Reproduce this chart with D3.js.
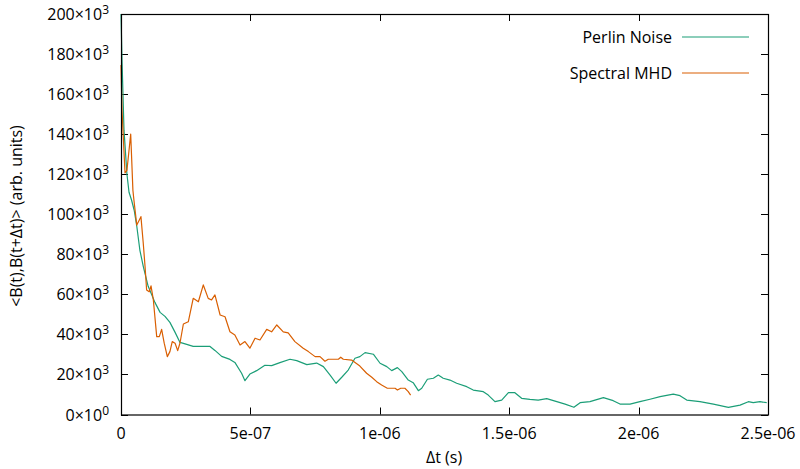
<!DOCTYPE html>
<html><head><meta charset="utf-8">
<script src="https://cdn.jsdelivr.net/npm/d3@7"></script>
<style>body{margin:0;background:#fff;}svg{display:block;font-family:"Open Sans",Lato,sans-serif;font-weight:500;}</style>
</head><body>
<svg id="chart" width="800" height="469"></svg>
<script>
const seriesNames = ["Perlin Noise", "Spectral MHD"];
const seriesColors = ["#1b9e77", "#d95f02"];
const perlinT = [0,3.9e-9,11.6e-9,23e-9,31e-9,41e-9,51e-9,61e-9,73e-9,86e-9,105e-9,131e-9,151e-9,170e-9,189e-9,209e-9,228e-9,254e-9,279e-9,305e-9,344e-9,363e-9,389e-9,421e-9,440e-9,466e-9,479e-9,498e-9,524e-9,556e-9,582e-9,614e-9,653e-9,679e-9,718e-9,756e-9,782e-9,808e-9,831e-9,853e-9,878e-9,904e-9,923e-9,943e-9,975e-9,1001e-9,1027e-9,1046e-9,1068e-9,1085e-9,1110e-9,1129e-9,1149e-9,1162e-9,1184e-9,1207e-9,1226e-9,1245e-9,1271e-9,1297e-9,1336e-9,1361e-9,1400e-9,1419e-9,1445e-9,1471e-9,1497e-9,1522e-9,1548e-9,1580e-9,1612e-9,1645e-9,1684e-9,1716e-9,1750e-9,1774e-9,1812e-9,1864e-9,1902e-9,1928e-9,1967e-9,2005e-9,2044e-9,2083e-9,2134e-9,2160e-9,2186e-9,2237e-9,2289e-9,2347e-9,2392e-9,2424e-9,2443e-9,2469e-9,2495e-9];
const perlinV = [200e3,177e3,142e3,120e3,111e3,107e3,102e3,94e3,82e3,74e3,64e3,56e3,51e3,49e3,46e3,41e3,36e3,35e3,34e3,34e3,34e3,32e3,29e3,27.5e3,26e3,20.6e3,16.9e3,20.2e3,21.9e3,24.6e3,24.4e3,25.9e3,27.6e3,26.9e3,24.9e3,25.7e3,23.9e3,19.7e3,15.6e3,18.6e3,22.2e3,28.1e3,28.9e3,30.9e3,30.1e3,25.6e3,23.9e3,21.9e3,23.4e3,21.4e3,17.2e3,15.9e3,11.9e3,13.1e3,17.6e3,18.1e3,19.7e3,18.1e3,17.2e3,15.6e3,13.9e3,12.2e3,11.4e3,9.7e3,6.4e3,7.2e3,10.9e3,10.9e3,8.1e3,7.6e3,7.2e3,7.9e3,6.4e3,5.2e3,3.6e3,5.9e3,6.4e3,8.4e3,6.9e3,5.2e3,5.2e3,6.4e3,7.6e3,8.9e3,10.2e3,9.4e3,7.2e3,6.4e3,5.2e3,3.6e3,4.7e3,6.4e3,5.9e3,6.4e3,5.9e3];
const mhdT = [0,3.9e-9,15.5e-9,23e-9,37.5e-9,46e-9,50e-9,61e-9,77e-9,86e-9,93e-9,99e-9,109e-9,116e-9,125e-9,138e-9,148e-9,157e-9,167e-9,179e-9,189e-9,198e-9,209e-9,219e-9,228e-9,241e-9,260e-9,279e-9,299e-9,318e-9,337e-9,350e-9,363e-9,383e-9,402e-9,421e-9,440e-9,460e-9,479e-9,498e-9,518e-9,537e-9,563e-9,582e-9,602e-9,627e-9,646e-9,672e-9,704e-9,724e-9,750e-9,769e-9,788e-9,801e-9,840e-9,849e-9,859e-9,891e-9,923e-9,949e-9,969e-9,988e-9,1007e-9,1029e-9,1059e-9,1068e-9,1081e-9,1097e-9,1110e-9,1119e-9];
const mhdV = [174.5e3,152e3,120.6e3,122e3,140e3,112e3,107e3,94.6e3,98.8e3,85.5e3,73.8e3,62.2e3,61.3e3,64.2e3,57.2e3,38.9e3,38.9e3,42.5e3,35.6e3,28.9e3,31.4e3,36.4e3,35.6e3,31.9e3,35.7e3,45.2e3,46.3e3,58e3,56.3e3,64.7e3,58e3,57.2e3,59.7e3,49.7e3,48.8e3,41.3e3,39.7e3,34.7e3,36.4e3,33.1e3,38.1e3,37.2e3,42.5e3,41.3e3,44.7e3,41.3e3,40.8e3,36.4e3,33.1e3,31.4e3,28.9e3,28.9e3,26.6e3,27.6e3,27.6e3,28.6e3,27.6e3,27.2e3,24.2e3,20.6e3,18.6e3,16.4e3,14.7e3,13.1e3,13.1e3,12.2e3,13.1e3,13.1e3,11.4e3,9.7e3];
const xTickValues = [0, 5e-7, 1e-6, 1.5e-6, 2e-6, 2.5e-6];
const xTickLabels = ["0", "5e-07", "1e-06", "1.5e-06", "2e-06", "2.5e-06"];
const yTickValues = [0, 20e3, 40e3, 60e3, 80e3, 100e3, 120e3, 140e3, 160e3, 180e3, 200e3];
const yTickMantissa = ["0", "20", "40", "60", "80", "100", "120", "140", "160", "180", "200"];
const yTickExponent = ["0", "3", "3", "3", "3", "3", "3", "3", "3", "3", "3"];
const xLabel = "Δt (s)";
const yLabel = "<B(t),B(t+Δt)> (arb. units)";

const svg = d3.select("#chart");
const L = 121, R = 768, T = 14, B = 414.5;
const x = d3.scaleLinear().domain([0, 2.5e-6]).range([L, R]);
const y = d3.scaleLinear().domain([0, 200e3]).range([B, T]);
const fs = 16;

// ticks (inward, mirrored)
const tk = svg.append("g").attr("stroke", "#000").attr("stroke-width", 1);
yTickValues.forEach(v => {
  const yy = Math.round(y(v)) + 0.5;
  tk.append("line").attr("x1", L).attr("x2", L + 7).attr("y1", yy).attr("y2", yy);
  tk.append("line").attr("x1", R - 7).attr("x2", R).attr("y1", yy).attr("y2", yy);
});
xTickValues.forEach(v => {
  const xx = Math.round(x(v)) + 0.5;
  tk.append("line").attr("x1", xx).attr("x2", xx).attr("y1", B).attr("y2", B - 7);
  tk.append("line").attr("x1", xx).attr("x2", xx).attr("y1", T).attr("y2", T + 7);
});

// y tick labels
yTickValues.forEach((v, i) => {
  const t = svg.append("text").attr("x", 109).attr("y", y(v) + 6)
    .attr("text-anchor", "end").attr("font-size", fs).attr("fill", "#000");
  t.append("tspan").text(yTickMantissa[i] + "×10");
  t.append("tspan").attr("dy", -6).attr("font-size", 12).text(yTickExponent[i]);
});
// x tick labels
xTickValues.forEach((v, i) => {
  svg.append("text").attr("x", x(v)).attr("y", 439).attr("text-anchor", "middle")
    .attr("font-size", fs).attr("fill", "#000").text(xTickLabels[i]);
});
// axis labels
svg.append("text").attr("x", 444).attr("y", 463).attr("text-anchor", "middle")
  .attr("font-size", fs).text(xLabel);
svg.append("text").attr("transform", "translate(22,216) rotate(-90)").attr("text-anchor", "middle")
  .attr("font-size", fs).text(yLabel);

// lines
const series = [perlinT.map((t, i) => [t, perlinV[i]]), mhdT.map((t, i) => [t, mhdV[i]])];
const line = d3.line().x(d => x(d[0])).y(d => y(d[1]));
series.forEach((s, i) => {
  svg.append("path").datum(s).attr("d", line).attr("fill", "none")
    .attr("stroke", seriesColors[i]).attr("stroke-width", 1.2).attr("stroke-linejoin", "round");
});

// frame
svg.append("rect").attr("x", L + 0.5).attr("y", T + 0.5).attr("width", R - L).attr("height", B - T)
  .attr("fill", "none").attr("stroke", "#000").attr("stroke-width", 1.2);

// legend
seriesNames.forEach((n, i) => {
  const ly = 37 + i * 36;
  svg.append("text").attr("x", 672).attr("y", ly + 6).attr("text-anchor", "end")
    .attr("font-size", fs).text(n);
  svg.append("line").attr("x1", 682).attr("x2", 749).attr("y1", ly).attr("y2", ly)
    .attr("stroke", seriesColors[i]).attr("stroke-width", 1.2);
});
</script>
</body></html>
